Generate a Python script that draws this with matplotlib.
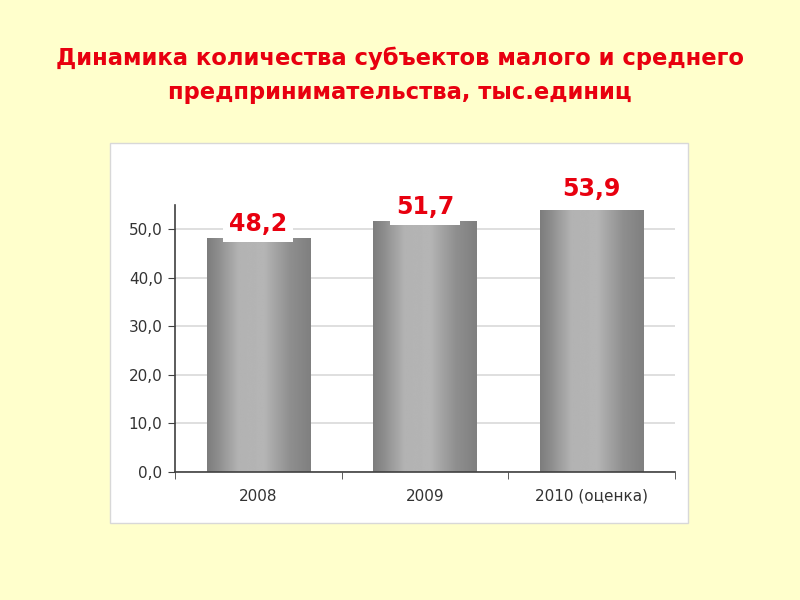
import numpy as np
import matplotlib
matplotlib.use('Agg')
import matplotlib.pyplot as plt
from matplotlib.patches import Rectangle
from matplotlib.ticker import FuncFormatter, MultipleLocator

title = 'Динамика количества субъектов малого и среднего\nпредпринимательства, тыс.единиц'
categories = ['2008', '2009', '2010 (оценка)']
values = [48.2, 51.7, 53.9]
labels = ['48,2', '51,7', '53,9']

red = '#e8000f'

fig = plt.figure(figsize=(8, 6), dpi=100, facecolor='#ffffcc')

# white chart panel
fig.add_artist(Rectangle((0.1375, 0.128), 0.7225, 0.634, transform=fig.transFigure,
                         facecolor='white', edgecolor='#d8d8d8', linewidth=1, zorder=0))

fig.text(0.5, 0.922, title, ha='center', va='top', fontsize=16.3, fontweight='bold',
         family='DejaVu Sans', color=red, linespacing=1.6)

ax = fig.add_axes([0.21875, 0.2133, 0.625, 0.445])
ax.set_facecolor('none')

x = np.arange(len(categories))
bars = ax.bar(x, values, width=0.62, color='none', edgecolor='none', zorder=2)

# horizontal gray gradient for each bar
pos = np.linspace(0, 1, 200)
shade = np.interp(pos, [0, 0.1, 0.3, 0.55, 0.8, 1.0], [0.49, 0.55, 0.70, 0.71, 0.56, 0.50])
grad = shade[np.newaxis, :]
for b in bars:
    x0 = b.get_x()
    im = ax.imshow(grad, extent=[x0, x0 + b.get_width(), 0, b.get_height()], aspect='auto',
                   cmap='gray', vmin=0, vmax=1, zorder=2, interpolation='bilinear')
    im.set_clip_path(b)

ax.set_xlim(-0.5, len(categories) - 0.5)
ax.set_ylim(0, 55)

for i, (xi, v, lab) in enumerate(zip(x, values, labels)):
    last = i == len(values) - 1
    ax.annotate(lab, xy=(xi, v), xytext=(0, 10 if last else 5), textcoords='offset points',
                ha='center', va='baseline', fontsize=17, fontweight='bold', color=red,
                bbox=None if last else dict(boxstyle='square,pad=0.25', facecolor='white',
                                            edgecolor='none'),
                zorder=4)

ax.yaxis.set_major_locator(MultipleLocator(10))
ax.yaxis.set_major_formatter(FuncFormatter(lambda v, p: ('%.1f' % v).replace('.', ',')))
ax.grid(axis='y', color='#d9d9d9', linewidth=1.2, zorder=1)
ax.set_axisbelow(True)

ax.set_xticks(x)
ax.set_xticklabels(categories)
ax.set_xticks(np.arange(len(categories) + 1) - 0.5, minor=True)
ax.tick_params(axis='x', which='major', length=0, pad=12)
ax.tick_params(axis='x', which='minor', length=5, color='#404040', direction='out')
ax.tick_params(axis='y', length=5, color='#404040', direction='out', pad=4)
ax.tick_params(labelsize=11, labelcolor='#333333')

for s in ['top', 'right']:
    ax.spines[s].set_visible(False)
for s in ['left', 'bottom']:
    ax.spines[s].set_color('#404040')
    ax.spines[s].set_linewidth(1.2)

plt.savefig('out.png', dpi=100, facecolor=fig.get_facecolor())
